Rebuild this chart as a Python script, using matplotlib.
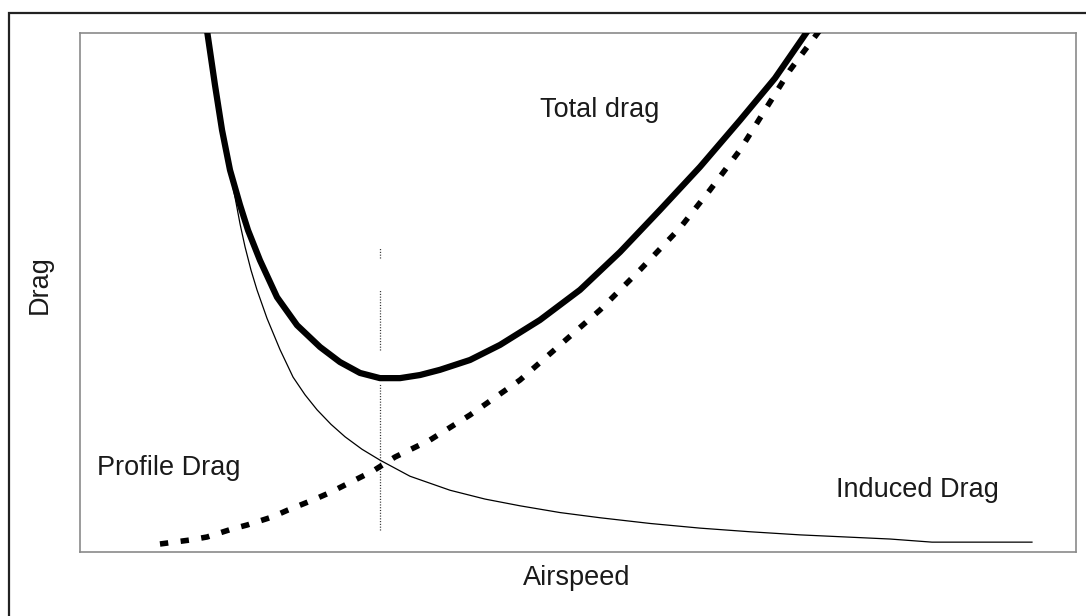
import matplotlib
matplotlib.use("Agg")
import matplotlib.pyplot as plt
from matplotlib.patches import Rectangle

plt.rcParams['lines.scale_dashes'] = False
plt.rcParams['font.family'] = ['Liberation Sans', 'DejaVu Sans']

# Total drag (thick solid)
total_x = [12.75, 13.55, 14.26, 15.06, 16.06, 16.87, 18.07, 19.78, 21.79, 24.10, 26.10, 28.11,
           30.12, 32.13, 34.14, 36.14, 39.16, 42.17, 46.18, 50.20, 54.22, 58.23, 62.25, 66.27,
           69.78, 73.09]
total_y = [100.5, 90.0, 81.3, 73.6, 66.9, 62.0, 56.2, 49.1, 43.7, 39.5, 36.6, 34.5,
           33.5, 33.5, 34.1, 35.1, 37.0, 39.9, 44.7, 50.5, 57.8, 65.9, 74.2, 83.2,
           91.3, 100.5]

# Profile drag (thick dashed)
profile_x = [8.03, 11.04, 12.75, 15.26, 16.77, 19.28, 20.88, 23.39, 25.00, 27.41, 29.42, 31.63,
             35.14, 39.16, 44.18, 48.19, 52.21, 56.22, 60.24, 63.25, 66.27, 68.78, 71.29, 74.30]
profile_y = [1.54, 2.31, 2.89, 4.43, 5.20, 6.74, 8.09, 10.02, 11.37, 13.68, 15.61, 18.30,
             21.58, 26.40, 33.14, 39.88, 46.63, 54.34, 62.43, 69.75, 77.46, 85.16, 92.87, 100.6]

# Induced drag (thin solid)
induced_x = [12.75, 13.55, 14.26, 15.06, 15.56, 16.07, 16.57, 17.17, 17.77, 18.78, 20.08, 21.39,
             22.59, 23.80, 25.20, 26.61, 28.31, 30.12, 33.13, 37.15, 40.66, 44.18, 48.19,
             52.21, 57.23, 62.25, 67.27, 72.29, 81.33, 85.54, 95.58]
induced_y = [100.5, 90.0, 81.3, 73.0, 68.4, 63.2, 58.8, 54.3, 50.5, 45.0, 39.0, 33.7,
             30.3, 27.4, 24.6, 22.2, 19.8, 17.7, 14.6, 11.9, 10.2, 8.9, 7.6,
             6.6, 5.5, 4.6, 3.9, 3.3, 2.5, 1.9, 1.9]

# Minimum-drag speed marker (dotted vertical segments)
marker_x = 30.1
marker_segments = [(56.6, 58.6), (38.9, 50.5), (4.2, 32.6)]

labels = {
    "Total drag": (46.2, 85.2),
    "Profile Drag": (1.7, 16.2),
    "Induced Drag": (75.9, 11.9),
}

FS = 19.5

fig = plt.figure(figsize=(10.86, 6.16), dpi=100)
fig.patch.set_facecolor("white")
ax = fig.add_axes([80 / 1086, 64 / 616, 996 / 1086, 519 / 616])
ax.set_xlim(0, 100)
ax.set_ylim(0, 100)
ax.set_xticks([])
ax.set_yticks([])
for s in ax.spines.values():
    s.set_color("#8a8a8a")
    s.set_linewidth(1.2)

for lo, hi in marker_segments:
    ax.plot([marker_x, marker_x], [lo, hi], color="#333333", lw=0.9,
            linestyle=(0, (0.8, 1.2)), zorder=1)

ax.plot(induced_x, induced_y, color="black", lw=0.9, zorder=2)
ax.plot(profile_x, profile_y, color="black", lw=4.0, linestyle=(0, (6, 9)),
        dash_capstyle="butt", zorder=3)
ax.plot(total_x, total_y, color="black", lw=4.5, solid_capstyle="butt", zorder=4)

for txt, (x, y) in labels.items():
    ax.text(x, y, txt, fontsize=FS, color="#1a1a1a", ha="left", va="center")

fig.text(577 / 1086, 1 - 578 / 616, "Airspeed", fontsize=FS, color="#1a1a1a",
         ha="center", va="center")
fig.text(40 / 1086, 1 - 285 / 616, "Drag", fontsize=FS, color="#1a1a1a",
         ha="center", va="center", rotation=90)

fig.patches.append(Rectangle((9 / 1086, -0.2), 2.0, 0.2 + (616 - 13) / 616,
                             transform=fig.transFigure, fill=False,
                             edgecolor="#222222", linewidth=1.6))

fig.savefig("out.png", dpi=100)
